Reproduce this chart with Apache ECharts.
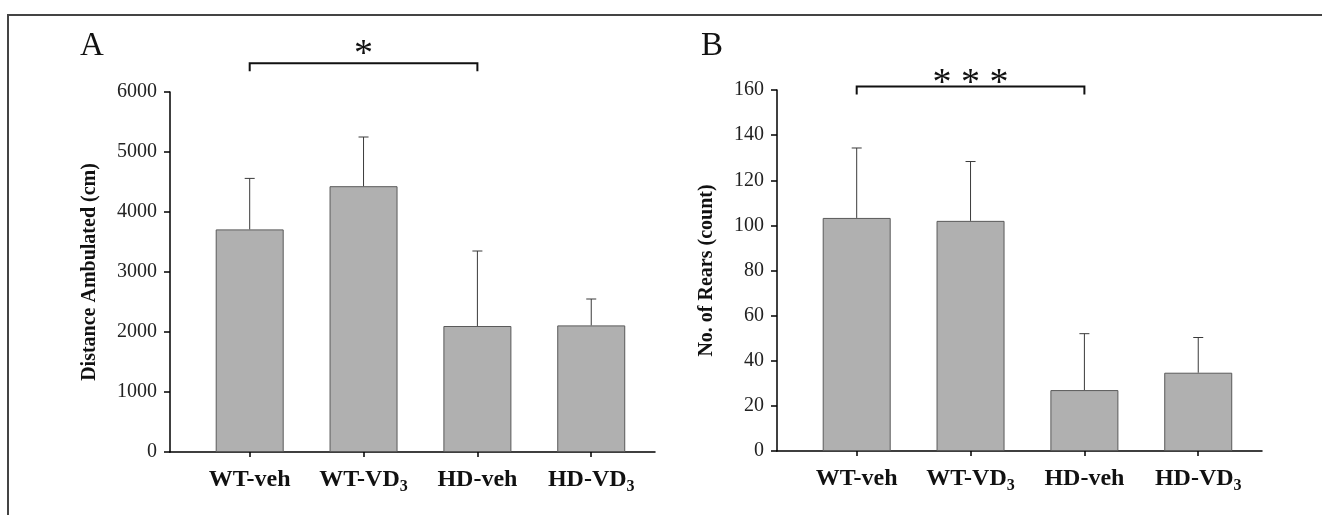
<!DOCTYPE html>
<html>
<head>
<meta charset="utf-8">
<script src="https://cdn.jsdelivr.net/npm/echarts@6/dist/echarts.min.js"></script>
<style>
  html, body { margin: 0; padding: 0; background: #fff; }
  #chart { width: 1322px; height: 515px; }
</style>
</head>
<body>
<div id="chart"></div>
<script>
// categories (VD3 uses a subscript 3)
const categories = ['WT-veh', 'WT-VD{sub|3}', 'HD-veh', 'HD-VD{sub|3}'];
const catPos = [0, 1, 2, 3];

// panel A: distance ambulated (cm), mean and top of the error bar
const distanceMean = [3710, 4430, 2100, 2110];
const distanceUpper = [4560, 5250, 3350, 2550];

// panel B: number of rears (count)
const rearsMean = [103.3, 102, 27, 34.7];
const rearsUpper = [134.3, 128.3, 52, 50.3];

// significance brackets: [from, to, height, stars]
const sigA = [0, 2, 6480, '*'];
const sigB = [0, 2, 161.5, '* * *'];

const serif = '"Liberation Serif", "Times New Roman", serif';

const chart = echarts.init(document.getElementById('chart'));

function xAxisFor(idx) {
  return {
    type: 'value',
    gridIndex: idx,
    min: -0.7,
    max: 3.56,
    splitLine: { show: false },
    axisLine: { onZero: false, lineStyle: { color: '#000', width: 1.5 } },
    axisTick: { customValues: catPos, length: 5, lineStyle: { color: '#000', width: 1.5 } },
    axisLabel: {
      customValues: catPos,
      margin: 12,
      fontFamily: serif,
      fontSize: 24,
      fontWeight: 'bold',
      lineHeight: 32,
      color: '#111',
      formatter: v => categories[Math.round(v)],
      rich: {
        sub: { fontFamily: serif, fontSize: 16, fontWeight: 'bold', color: '#111', lineHeight: 16, padding: [14, 0, 0, 0] }
      }
    }
  };
}

function yAxisFor(idx, max, interval, name, gap) {
  return {
    type: 'value',
    gridIndex: idx,
    min: 0,
    max: max,
    interval: interval,
    name: name,
    nameLocation: 'middle',
    nameGap: gap,
    nameTextStyle: { fontFamily: serif, fontSize: 20, fontWeight: 'bold', color: '#111' },
    splitLine: { show: false },
    axisLine: { show: true, onZero: false, lineStyle: { color: '#000', width: 1.5 } },
    axisTick: { show: true, length: 6, lineStyle: { color: '#000', width: 1.5 } },
    axisLabel: { margin: 13, fontFamily: serif, fontSize: 20, color: '#222', formatter: v => String(v) }
  };
}

function barSeries(idx, values) {
  return {
    type: 'bar',
    xAxisIndex: idx,
    yAxisIndex: idx,
    barWidth: 68,
    data: values.map((v, i) => [catPos[i], v]),
    itemStyle: { color: '#b0b0b0', borderColor: '#5a5a5a', borderWidth: 1 },
    z: 2
  };
}

function errorSeries(idx, mean, upper) {
  return {
    type: 'custom',
    xAxisIndex: idx,
    yAxisIndex: idx,
    data: mean.map((m, i) => [catPos[i], m, upper[i]]),
    renderItem: (params, api) => {
      const base = api.coord([api.value(0), api.value(1)]);
      const top = api.coord([api.value(0), api.value(2)]);
      const style = { stroke: '#3a3a3a', lineWidth: 1 };
      return {
        type: 'group',
        children: [
          { type: 'line', shape: { x1: base[0], y1: base[1], x2: top[0], y2: top[1] }, style },
          { type: 'line', shape: { x1: top[0] - 5, y1: top[1], x2: top[0] + 5, y2: top[1] }, style }
        ]
      };
    },
    z: 3
  };
}

function sigSeries(idx, sig, textGap) {
  return {
    type: 'custom',
    xAxisIndex: idx,
    yAxisIndex: idx,
    clip: false,
    data: [sig],
    renderItem: (params, api) => {
      const a = api.coord([api.value(0), api.value(2)]);
      const b = api.coord([api.value(1), api.value(2)]);
      return {
        type: 'group',
        children: [
          {
            type: 'polyline',
            shape: { points: [[a[0], a[1] + 8], [a[0], a[1]], [b[0], b[1]], [b[0], b[1] + 8]] },
            style: { stroke: '#111', lineWidth: 2, fill: null }
          },
          {
            type: 'text',
            x: (a[0] + b[0]) / 2,
            y: a[1] - textGap,
            style: {
              text: sig[3],
              fontFamily: serif,
              fontSize: 38,
              fill: '#111',
              align: 'center',
              verticalAlign: 'middle'
            }
          }
        ]
      };
    }
  };
}

chart.setOption({
  animation: false,
  grid: [
    { left: 170, top: 92, width: 485, height: 360 },
    { left: 777, top: 90, width: 485, height: 361 }
  ],
  xAxis: [xAxisFor(0), xAxisFor(1)],
  yAxis: [
    yAxisFor(0, 6000, 1000, 'Distance Ambulated (cm)', 70),
    yAxisFor(1, 160, 20, 'No. of Rears (count)', 60)
  ],
  graphic: [
    { type: 'rect', shape: { x: 8, y: 15, width: 1400, height: 600 }, style: { fill: null, stroke: '#444', lineWidth: 2 }, silent: true },
    { type: 'text', left: 80, top: 30, style: { text: 'A', fontFamily: serif, fontSize: 33, fill: '#111' } },
    { type: 'text', left: 701, top: 30, style: { text: 'B', fontFamily: serif, fontSize: 33, fill: '#111' } }
  ],
  series: [
    barSeries(0, distanceMean),
    errorSeries(0, distanceMean, distanceUpper),
    sigSeries(0, sigA, 8),
    barSeries(1, rearsMean),
    errorSeries(1, rearsMean, rearsUpper),
    sigSeries(1, sigB, 3)
  ]
});
</script>
</body>
</html>
